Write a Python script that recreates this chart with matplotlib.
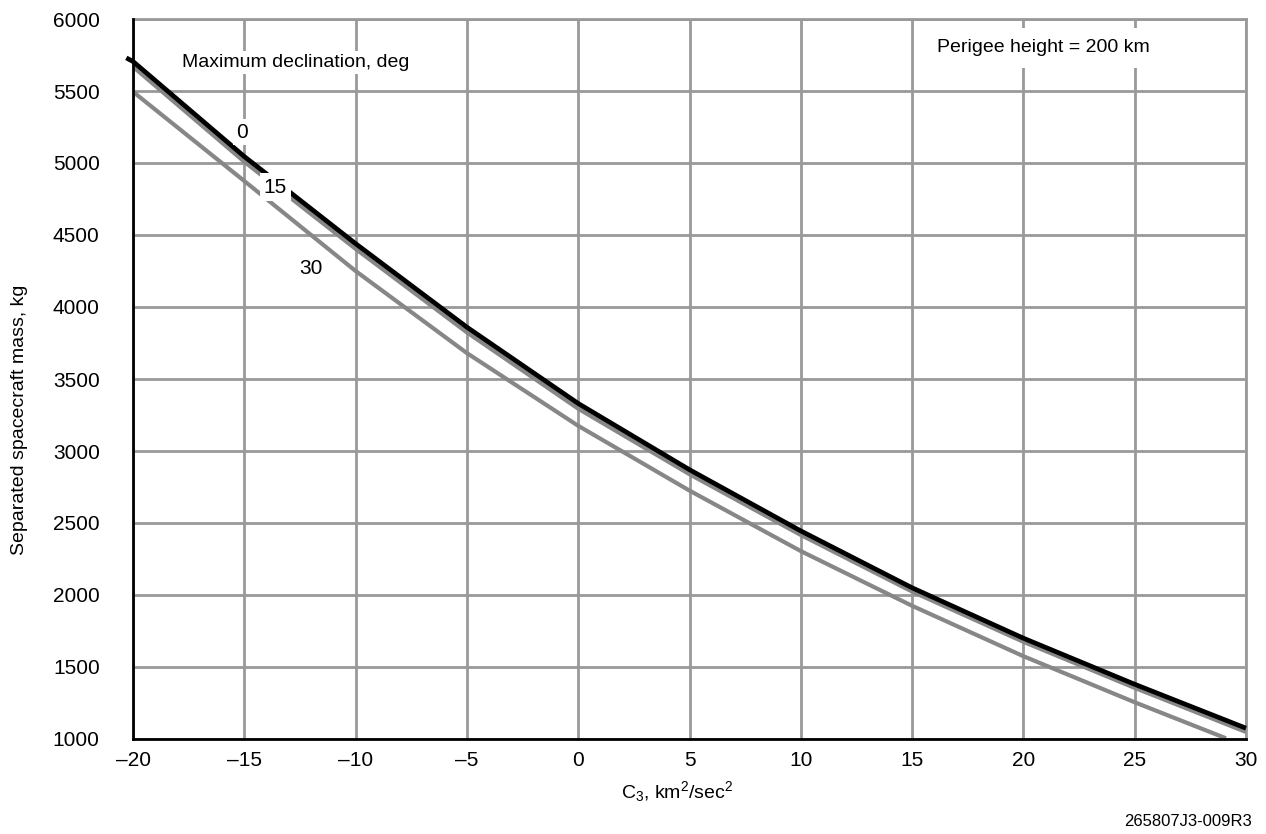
import matplotlib
matplotlib.use("Agg")
from matplotlib import pyplot as plt

plt.rcParams['font.family'] = ['Liberation Sans', 'DejaVu Sans']
plt.rcParams['mathtext.fontset'] = 'custom'
plt.rcParams['mathtext.rm'] = 'Liberation Sans'
plt.rcParams['mathtext.it'] = 'Liberation Sans'

# C3 (km2/sec2) vs separated spacecraft mass (kg)
c3 = [-20, -15, -10, -5, 0, 5, 10, 15, 20, 25, 30]
mass_dec0 = [5705, 5045, 4440, 3860, 3330, 2870, 2445, 2050, 1700, 1380, 1075]
mass_dec15 = [5670, 5010, 4405, 3825, 3295, 2840, 2418, 2025, 1676, 1356, 1050]
c3_dec30 = [-20, -15, -10, -5, 0, 5, 10, 15, 20, 25, 29.1]
mass_dec30 = [5495, 4875, 4250, 3680, 3175, 2725, 2305, 1925, 1575, 1255, 1005]

xticks = list(range(-20, 31, 5))
xlabels = [str(t).replace('-', '\u2013') for t in xticks]
yticks = list(range(1000, 6001, 500))

grid_col = '#999999'
gray_line = '#878787'

fig = plt.figure(figsize=(12.66, 8.34), dpi=100)
ax = fig.add_axes([133 / 1266, 1 - 739 / 834, 1113 / 1266, 720 / 834])

ax.plot(c3_dec30, mass_dec30, color=gray_line, lw=3, zorder=3, solid_capstyle='butt')
ax.plot(c3, mass_dec15, color=gray_line, lw=3.2, zorder=3, solid_capstyle='butt')
ax.plot([-20.3] + c3, [5730] + mass_dec0, color='black', lw=3.4, zorder=4,
        solid_capstyle='butt', clip_on=False)

ax.set_xlim(-20, 30)
ax.set_ylim(1000, 6000)
ax.set_xticks(xticks)
ax.set_xticklabels(xlabels)
ax.set_yticks(yticks)
ax.tick_params(axis='both', length=0, labelsize=15)
ax.tick_params(axis='y', pad=24)
ax.tick_params(axis='x', pad=9)
ax.grid(True, color=grid_col, lw=2, zorder=1)
ax.set_axisbelow(True)

for side in ['top', 'right']:
    ax.spines[side].set_color(grid_col)
    ax.spines[side].set_linewidth(2)
for side in ['left', 'bottom']:
    ax.spines[side].set_color('black')
    ax.spines[side].set_linewidth(2)
    ax.spines[side].set_zorder(5)

box = dict(boxstyle='square,pad=0.15', fc='white', ec='none')
ax.text(-17.8, 5700, 'Maximum declination, deg', fontsize=14, va='center', ha='left',
        bbox=box, zorder=6)
ax.text(-15.1, 5215, '0', fontsize=15, va='center', ha='center', bbox=box, zorder=6)
ax.text(-13.6, 4833, '15', fontsize=15, va='center', ha='center',
        bbox=dict(boxstyle='square,pad=0.2', fc='white', ec='none'), zorder=6)
ax.text(-12.0, 4265, '30', fontsize=15, va='center', ha='center', bbox=box, zorder=6)
ax.text(20.9, 5800, 'Perigee height = 200 km', fontsize=14, va='center', ha='center',
        bbox=dict(boxstyle='square,pad=0.6', fc='white', ec='none'), zorder=6)

fig.text(677 / 1266, 1 - 792 / 834, r'C$\mathregular{_3}$, km$\mathregular{^2}$/sec$\mathregular{^2}$',
         fontsize=14, ha='center', va='center')
fig.text(20 / 1266, 1 - 420 / 834, 'Separated spacecraft mass, kg', fontsize=14,
         rotation=90, ha='center', va='center')
fig.text(1252 / 1266, 1 - 822 / 834, '265807J3-009R3', fontsize=12, ha='right', va='center')

fig.savefig('out.png', dpi=100)
